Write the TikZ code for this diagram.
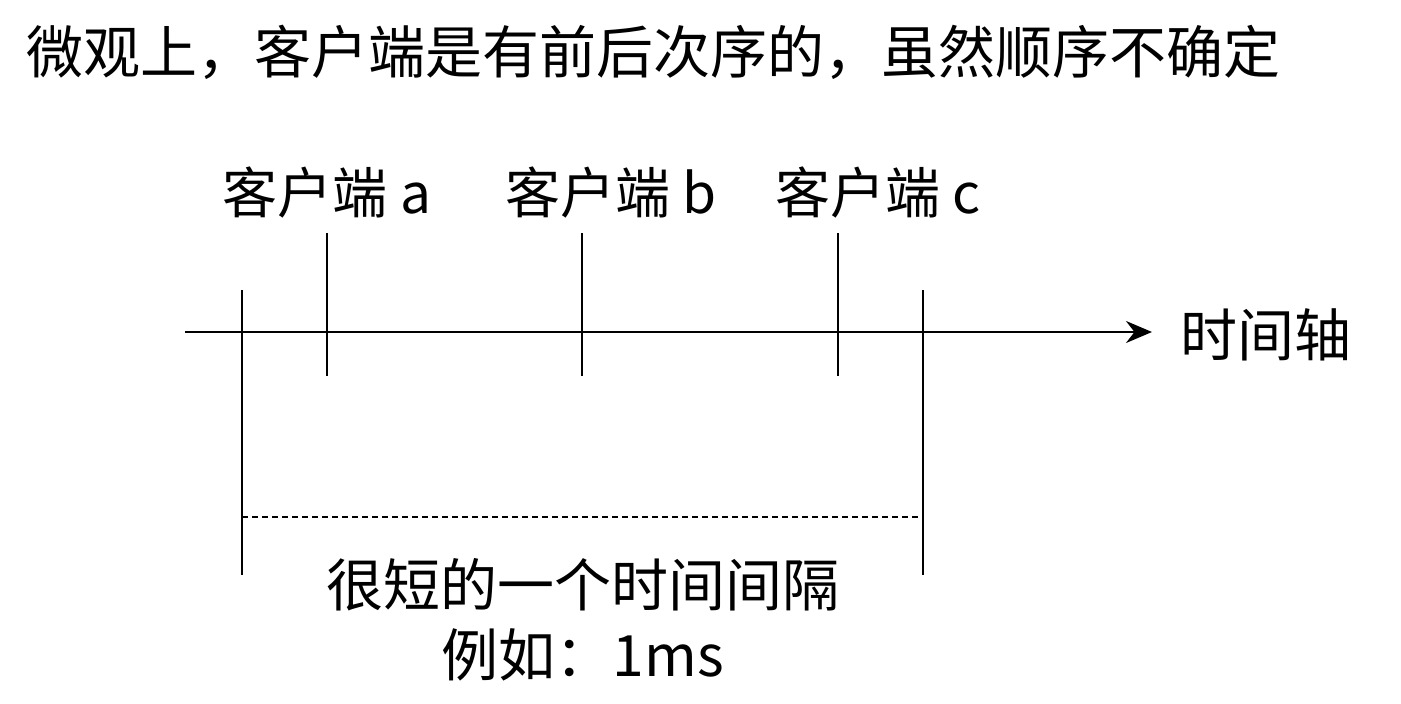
\documentclass[tikz,border=0pt]{standalone}
\usepackage{fontspec}
\setmainfont{Noto Sans CJK SC}
\usetikzlibrary{arrows.meta}
\begin{document}
\begin{tikzpicture}[x=1pt,y=-1pt,
  ln/.style={line width=2pt,black},
  txt/.style={inner sep=0pt,font=\fontsize{55}{60}\selectfont},
  big/.style={inner sep=0pt,font=\fontsize{57}{62}\selectfont}]
\useasboundingbox (0,0) rectangle (1401,704);
\node[big,anchor=west] (title) at (26,52) {微观上，客户端是有前后次序的，虽然顺序不确定};
\coordinate (s) at (185,332);
\coordinate (e) at (1152,332);
\draw[ln,-{Stealth[length=26pt,width=22pt]}] (s) -- (e);
\node[big,anchor=west] (axis) at (1180,335) {时间轴};
\coordinate (L1) at (242,290); \coordinate (L2) at (242,575);
\coordinate (R1) at (923,290); \coordinate (R2) at (923,575);
\draw[ln] (L1) -- (L2);
\draw[ln] (R1) -- (R2);
\foreach \x/\n in {327/a,582/b,838/c}{
  \coordinate (t\n1) at (\x,233); \coordinate (t\n2) at (\x,376);
  \draw[ln] (t\n1) -- (t\n2);
}
\node[txt] (ca) at (327,193) {客户端 a};
\node[txt] (cb) at (611,193) {客户端 b};
\node[txt] (cc) at (878,193) {客户端 c};
\coordinate (d1) at (242,517); \coordinate (d2) at (918,517);
\draw[line width=1.5pt,dash pattern=on 6pt off 4pt] (d1) -- (d2);
\node[big] (gap) at (583,585) {很短的一个时间间隔};
\node[big] (eg) at (583,655) {例如：1ms};
\end{tikzpicture}
\end{document}
